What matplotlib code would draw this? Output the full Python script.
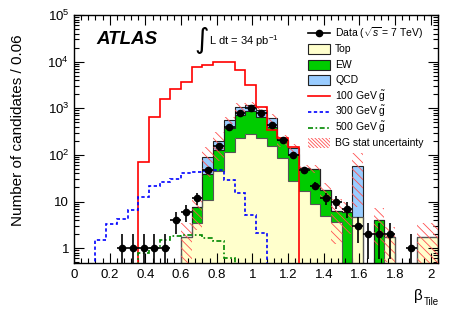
import numpy as np
import matplotlib
matplotlib.use('Agg')
import matplotlib.pyplot as plt
from matplotlib.patches import Rectangle
from matplotlib.lines import Line2D
from matplotlib.ticker import LogLocator, FuncFormatter, MultipleLocator, NullFormatter

plt.rcParams['font.family'] = ['Liberation Sans', 'DejaVu Sans']
plt.rcParams['mathtext.fontset'] = 'custom'
plt.rcParams['mathtext.rm'] = 'Liberation Sans'
plt.rcParams['mathtext.it'] = 'Liberation Sans:italic'
plt.rcParams['mathtext.bf'] = 'Liberation Sans:bold'
plt.rcParams['hatch.linewidth'] = 0.6

# ---------------- data ----------------
bin_width = 0.06
n_bins = 34
edges = np.round(np.arange(n_bins + 1) * bin_width, 4)
centers = edges[:-1] + bin_width / 2

data = np.array([0, 0, 0, 0, 1, 1, 1, 1, 1, 4, 6, 12, 47, 155, 395, 790, 1000,
                 790, 430, 210, 97, 48, 22, 12, 10, 7, 3, 2, 2, 2, 0, 1, 0, 0], float)
top = np.array([0, 0, 0, 0, 0, 0, 0, 0, 0, 0, 1.75, 3.4, 10.8, 46, 117, 228, 278,
                228, 155, 85, 28, 17, 9, 5, 3.7, 0, 4.6, 0, 0, 1.7, 0, 0, 1.7, 1.7], float)
ew = np.array([0, 0, 0, 0, 0, 0, 0, 0, 0, 0, 0, 4.1, 29, 82, 258, 472, 602,
               437, 250, 125, 77, 35, 41, 12.6, 2.55, 6, 0, 0, 4.1, 0, 0, 0, 0, 0], float)
qcd = np.array([0, 0, 0, 0, 0, 0, 0, 0, 0, 0, 0, 0, 52, 66, 190, 345, 310,
                265, 225, 0, 34, 0, 0, 0, 0, 0, 53, 0, 0, 0, 0, 0, 0, 0], float)
bg_err = np.array([0, 0, 0, 0, 0, 0, 0, 0, 0, 0, 1.7, 5, 58, 120, 100, 245, 200,
                   150, 140, 60, 35, 10, 10, 7, 5, 4, 50, 0, 3, 1.2, 0, 0, 1.7, 1.7], float)
sig100 = np.array([0, 0, 0, 0, 0, 0, 70, 640, 1550, 2600, 3700, 7800, 8500, 9900,
                   9800, 6500, 3200, 1050, 345, 230, 145, 0, 0, 0, 0, 0, 0, 0, 0, 0, 0, 0, 0, 0], float)
sig300 = np.array([0, 0, 1.5, 3.3, 4.3, 6.5, 12.5, 22, 26, 31, 40, 44, 45, 47, 29,
                   15.5, 5.1, 2.1, 0, 0, 0, 0, 0, 0, 0, 0, 0, 0, 0, 0, 0, 0, 0, 0], float)
sig500 = np.array([0, 0, 0, 0, 0, 0, 0.8, 1.0, 1.5, 1.85, 1.9, 1.95, 1.65, 1.45, 0.62,
                   0, 0, 0, 0, 0, 0, 0, 0, 0, 0, 0, 0, 0, 0, 0, 0, 0, 0, 0], float)

x_ticks = [0, 0.2, 0.4, 0.6, 0.8, 1, 1.2, 1.4, 1.6, 1.8, 2]
x_tick_labels = ['0', '0.2', '0.4', '0.6', '0.8', '1', '1.2', '1.4', '1.6', '1.8', '2']
legend_labels = [r'Data ($\sqrt{s}$ = 7 TeV)', 'Top', 'EW', 'QCD',
                 r'100 GeV $\tilde{\mathrm{g}}$', r'300 GeV $\tilde{\mathrm{g}}$',
                 r'500 GeV $\tilde{\mathrm{g}}$', 'BG stat uncertainty']

# ---------------- style ----------------
c_top = '#ffffcc'
c_ew = '#00cc00'
c_qcd = '#99ccff'
c_hatch = '#ff5050'
edge_c = '#222222'
hatch_pat = '\\\\\\\\'
ls300 = (0, (2, 1.5))
ls500 = (0, (3, 1.5, 1, 1.5))

W, H = 462, 313
fig = plt.figure(figsize=(W / 100, H / 100), dpi=100)
ax = fig.add_axes([74 / W, 1 - 263 / H, (438 - 74) / W, (263 - 15) / H])
ax.set_yscale('log', nonpositive='clip')

c1 = top
c2 = top + ew
c3 = top + ew + qcd

ax.stairs(c3, edges, baseline=c2, fill=True, color=c_qcd, lw=0, zorder=1)
ax.stairs(c2, edges, baseline=c1, fill=True, color=c_ew, lw=0, zorder=1)
ax.stairs(c1, edges, baseline=0, fill=True, color=c_top, lw=0, zorder=1)
ax.stairs(c3, edges, color=edge_c, lw=0.8, zorder=2)
ax.stairs(c2, edges, color=edge_c, lw=0.8, zorder=2)
ax.stairs(c1, edges, color='#555555', lw=0.8, zorder=2)

# BG stat uncertainty
m = bg_err > 0
lo = np.maximum(c3 - bg_err, 0.01)
hi = c3 + bg_err
ax.bar(centers[m], (hi - lo)[m], bottom=lo[m], width=bin_width, fill=False,
       hatch=hatch_pat, edgecolor=c_hatch, linewidth=0, zorder=3)

# signals
ax.stairs(sig100, edges, color='#ff0000', lw=1.2, zorder=4)
ax.stairs(sig300, edges, color='#0000ff', lw=1.2, ls=ls300, zorder=4)
ax.stairs(sig500, edges, color='#008800', lw=1.2, ls=ls500, zorder=4)

# data
md = data > 0
err = np.sqrt(data)
ax.errorbar(centers[md], data[md], yerr=[(np.minimum(err, data))[md], err[md]],
            xerr=bin_width / 2, fmt='o', color='k', ms=4.5, elinewidth=1.2,
            capsize=0, zorder=5)

ax.set_xlim(0, edges[-1])
ax.set_ylim(0.48, 1e5)

ax.set_xticks(x_ticks)
ax.set_xticklabels(x_tick_labels)
ax.xaxis.set_minor_locator(MultipleLocator(0.04))


def yfmt(v, pos):
    e = int(round(np.log10(v)))
    if e == 0:
        return '1'
    if e == 1:
        return '10'
    return r'$10^{%d}$' % e


ax.yaxis.set_major_locator(LogLocator(base=10, numticks=10))
ax.yaxis.set_major_formatter(FuncFormatter(yfmt))
ax.yaxis.set_minor_locator(LogLocator(base=10, subs=np.arange(2, 10), numticks=20))
ax.yaxis.set_minor_formatter(NullFormatter())

ax.tick_params(which='both', direction='in', top=True, right=True, labelsize=9.5)
ax.tick_params(which='major', length=7, width=0.8)
ax.tick_params(which='minor', length=3.5, width=0.8)
ax.tick_params(axis='x', pad=4)
for s in ax.spines.values():
    s.set_linewidth(1.0)

# labels
fig.text(18 / W, 1 - 130 / H, 'Number of candidates / 0.06', rotation=90,
         ha='center', va='center', fontsize=11)
fig.text(414 / W, 1 - 300 / H, 'β', fontsize=11, ha='left', va='baseline')
fig.text(424 / W, 1 - 305 / H, 'Tile', fontsize=7, ha='left', va='baseline')

fig.text(96 / W, 1 - 40 / H, 'ATLAS', fontsize=13.5, weight='bold', style='italic',
         ha='left', va='center')
fig.text(194 / W, 1 - 40 / H, '∫', fontsize=20, family='DejaVu Sans', ha='left', va='center')
fig.text(209 / W, 1 - 45 / H, r'L dt = 34 pb$^{-1}$', fontsize=8, ha='left', va='baseline')

# ---------------- legend (manual layout) ----------------
lx0, lx1, tx = 308, 330, 335
y0, dy = 33.3, 15.7


def fx(px):
    return px / W


def fy(py):
    return 1 - py / H


for i, lab in enumerate(legend_labels):
    yc = y0 + dy * i
    fig.text(fx(tx), fy(yc), lab, fontsize=7.5, ha='left', va='center')
    if i == 0:
        fig.add_artist(Line2D([fx(lx0), fx(lx1)], [fy(yc), fy(yc)], color='k', lw=1.2,
                              transform=fig.transFigure))
        fig.add_artist(Line2D([fx((lx0 + lx1) / 2)], [fy(yc)], color='k', marker='o', ms=4.5,
                              transform=fig.transFigure))
    elif i in (1, 2, 3):
        fc = [c_top, c_ew, c_qcd][i - 1]
        fig.add_artist(Rectangle((fx(lx0), fy(yc + 5)), fx(lx1 - lx0), (10 / H), facecolor=fc,
                                 edgecolor=edge_c, lw=0.8, transform=fig.transFigure))
    elif i == 4:
        fig.add_artist(Line2D([fx(lx0), fx(lx1)], [fy(yc), fy(yc)], color='#ff0000', lw=1.2,
                              transform=fig.transFigure))
    elif i == 5:
        fig.add_artist(Line2D([fx(lx0), fx(lx1)], [fy(yc), fy(yc)], color='#0000ff', lw=1.2,
                              ls=ls300, transform=fig.transFigure))
    elif i == 6:
        fig.add_artist(Line2D([fx(lx0), fx(lx1)], [fy(yc), fy(yc)], color='#008800', lw=1.2,
                              ls=ls500, transform=fig.transFigure))
    else:
        # hatched swatch drawn as clipped diagonal strokes
        clip = Rectangle((fx(lx0), fy(yc + 5)), fx(lx1 - lx0), 10 / H,
                         transform=fig.transFigure, fill=False, lw=0)
        fig.add_artist(clip)
        clip.set_visible(False)
        for xs in np.arange(lx0 - 12, lx1 + 1, 3.6):
            ln = Line2D([fx(xs), fx(xs + 12)], [fy(yc - 6), fy(yc + 6)], color=c_hatch,
                        lw=0.6, transform=fig.transFigure)
            ln.set_clip_path(clip)
            fig.add_artist(ln)

fig.savefig('out.png', dpi=100)
